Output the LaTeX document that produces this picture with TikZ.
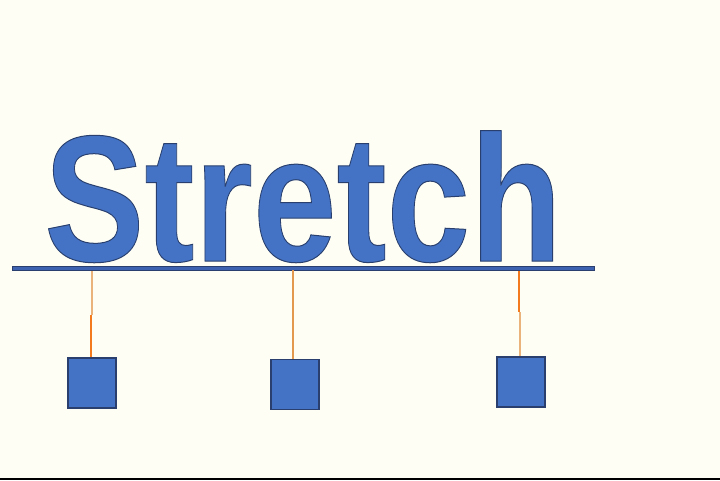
\documentclass[tikz,border=0pt]{standalone}
\usepackage{fontspec}
\setmainfont{Liberation Sans}
\definecolor{bg}{HTML}{FEFEF5}
\definecolor{fillblue}{HTML}{4472C4}
\definecolor{barblue}{HTML}{3C62B0}
\definecolor{navy}{HTML}{2A3F6E}
\definecolor{orangeA}{HTML}{F47A1E}
\definecolor{orangeB}{HTML}{EBB37C}
\definecolor{orangeC}{HTML}{E39A4E}
\begin{document}
\begin{tikzpicture}[x=1pt,y=-1pt,
  sq/.style={draw=navy, fill=fillblue, line width=1.2pt, minimum width=48pt, minimum height=50pt, inner sep=0pt},
  bright/.style={draw=orangeA, line width=1.6pt},
  pale/.style={draw=orangeB, line width=2pt},
  mid/.style={draw=orangeC, line width=1.6pt}]
\fill[bg] (0,0) rectangle (720,480);
\useasboundingbox (0,0) rectangle (720,480);
\fill[black] (0,478) rectangle (720,480);
\node[anchor=base west, inner sep=0pt, text=fillblue] (title) at (44,261)
  {\fontsize{180}{180}\selectfont\bfseries\scalebox{0.835}[1]{\special{pdf:code 2 Tr 1 w 0.16 0.25 0.43 RG}Stretch\special{pdf:code 0 Tr}}};
\node[draw=navy, fill=barblue, line width=1pt, minimum width=582pt, minimum height=4pt, inner sep=0pt, anchor=north west] (bar) at (12,266) {};
\node[sq] (s1) at (92,383) {};
\node[sq] (s2) at (295,384.5) {};
\node[sq] (s3) at (521,382) {};
\coordinate (j1) at (92,315);
\coordinate (k1) at (91,315);
\draw[pale] (j1 |- bar.south) -- (j1);
\draw[bright] (k1) -- (k1 |- s1.north);
\draw[mid] (293,270) coordinate (t2) -- (t2 |- s2.north);
\coordinate (j3) at (519,312);
\coordinate (k3) at (520,312);
\draw[bright] (j3 |- bar.south) -- (j3);
\draw[pale] (k3) -- (k3 |- s3.north);
\end{tikzpicture}
\end{document}
